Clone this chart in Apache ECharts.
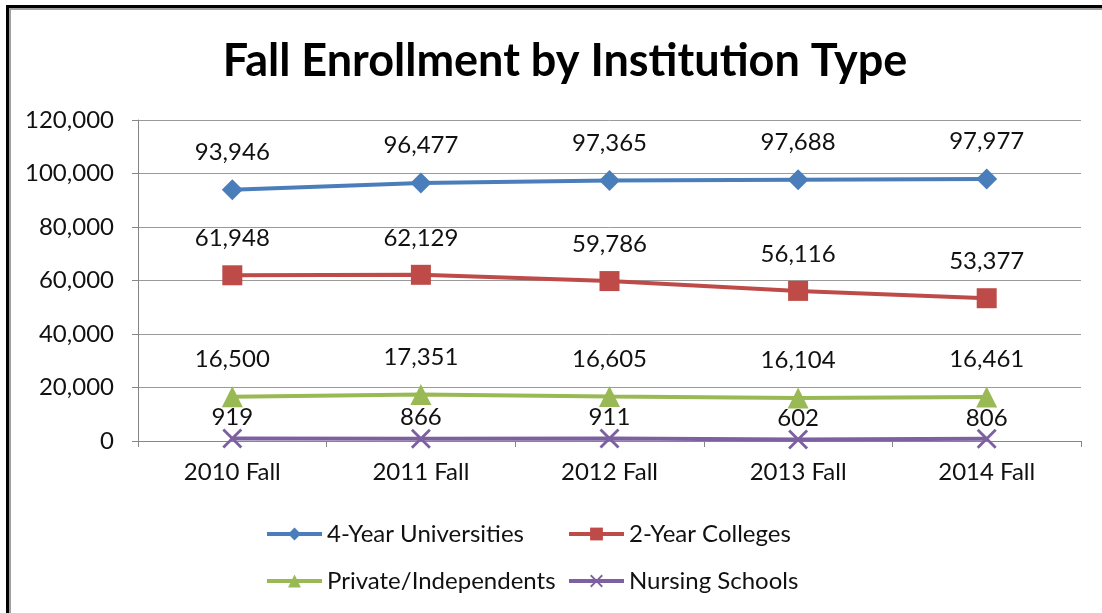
<!DOCTYPE html>
<html>
<head>
<meta charset="utf-8">
<script src="https://cdn.jsdelivr.net/npm/echarts@6/dist/echarts.min.js"></script>
<style>
  html, body { margin: 0; padding: 0; background: #fff; }
  #frame {
    position: absolute; left: 6px; top: 5px; width: 1100px; height: 610px;
    border-top: 3px solid #000; border-left: 3px solid #000;
    box-shadow: inset 2px 2px 0 #a0a0a0;
  }
  #main { position: absolute; left: 0; top: 0; width: 1102px; height: 613px; }
</style>
</head>
<body>
<div id="frame"></div>
<div id="main"></div>
<script>
const categories = ['2010 Fall', '2011 Fall', '2012 Fall', '2013 Fall', '2014 Fall']
const fourYear = [93946, 96477, 97365, 97688, 97977]
const twoYear = [61948, 62129, 59786, 56116, 53377]
const privateInd = [16500, 17351, 16605, 16104, 16461]
const nursing = [919, 866, 911, 602, 806]
const yTicks = { min: 0, max: 120000, interval: 20000 }

const fontFamily = 'Lato, "Open Sans", sans-serif'
const crossPath = 'path://M0,1L1,0L5,4L9,0L10,1L6,5L10,9L9,10L5,6L1,10L0,9L4,5Z'

function fmt(v) {
  return v.toLocaleString('en-US')
}

function makeSeries(name, data, color, symbol, symbolSize, labelDist) {
  return {
    name: name,
    type: 'line',
    data: data,
    symbol: symbol,
    symbolSize: symbolSize,
    showAllSymbol: true,
    lineStyle: { color: color, width: 4 },
    itemStyle: { color: color },
    label: {
      show: true,
      position: 'top',
      distance: labelDist,
      color: '#111',
      fontSize: 24,
      fontFamily: fontFamily,
      formatter: p => fmt(p.value)
    },
    emphasis: { disabled: true },
    z: 3
  }
}

const chart = echarts.init(document.getElementById('main'), null, { renderer: 'canvas' })

const legendBase = {
  padding: 0,
  itemWidth: 55,
  itemHeight: 16,
  itemGap: 6,
  lineStyle: { width: 4 },
  textStyle: { color: '#111', fontSize: 24, fontFamily: fontFamily },
  selectedMode: false
}

chart.setOption({
  backgroundColor: 'transparent',
  animation: false,
  title: {
    text: 'Fall Enrollment by Institution Type',
    left: 560,
    textAlign: 'center',
    top: 34,
    textStyle: { color: '#000', fontSize: 45, fontWeight: 'bold', fontFamily: fontFamily }
  },
  legend: [
    Object.assign({ data: ['4-Year Universities'], left: 265, top: 522 }, legendBase),
    Object.assign({ data: ['2-Year Colleges'], left: 567, top: 522 }, legendBase),
    Object.assign({ data: ['Private/Independents'], left: 265, top: 569 }, legendBase),
    Object.assign({ data: ['Nursing Schools'], left: 567, top: 569 }, legendBase)
  ],
  grid: {
    left: 138,
    right: 21,
    top: 120,
    bottom: 172
  },
  xAxis: {
    type: 'category',
    data: categories,
    boundaryGap: true,
    axisLine: { lineStyle: { color: '#868686', width: 1 } },
    axisTick: { show: true, length: 6, lineStyle: { color: '#868686' } },
    axisLabel: { color: '#111', fontSize: 24, fontFamily: fontFamily, margin: 19 }
  },
  yAxis: {
    type: 'value',
    min: yTicks.min,
    max: yTicks.max,
    interval: yTicks.interval,
    axisLine: { show: true, lineStyle: { color: '#868686', width: 1 } },
    axisTick: { show: true, length: 6, lineStyle: { color: '#868686' } },
    splitLine: { show: true, lineStyle: { color: '#9a9a9a', width: 1 } },
    axisLabel: { color: '#111', fontSize: 24, fontFamily: fontFamily, margin: 24, formatter: v => fmt(v) }
  },
  series: [
    makeSeries('4-Year Universities', fourYear, '#4A7EBB', 'diamond', 21, 15),
    makeSeries('2-Year Colleges', twoYear, '#BE4B48', 'rect', 20, 15),
    makeSeries('Private/Independents', privateInd, '#98B954', 'triangle', 21, 15),
    makeSeries('Nursing Schools', nursing, '#7D60A0', crossPath, 20, -1)
  ]
})
</script>
</body>
</html>
